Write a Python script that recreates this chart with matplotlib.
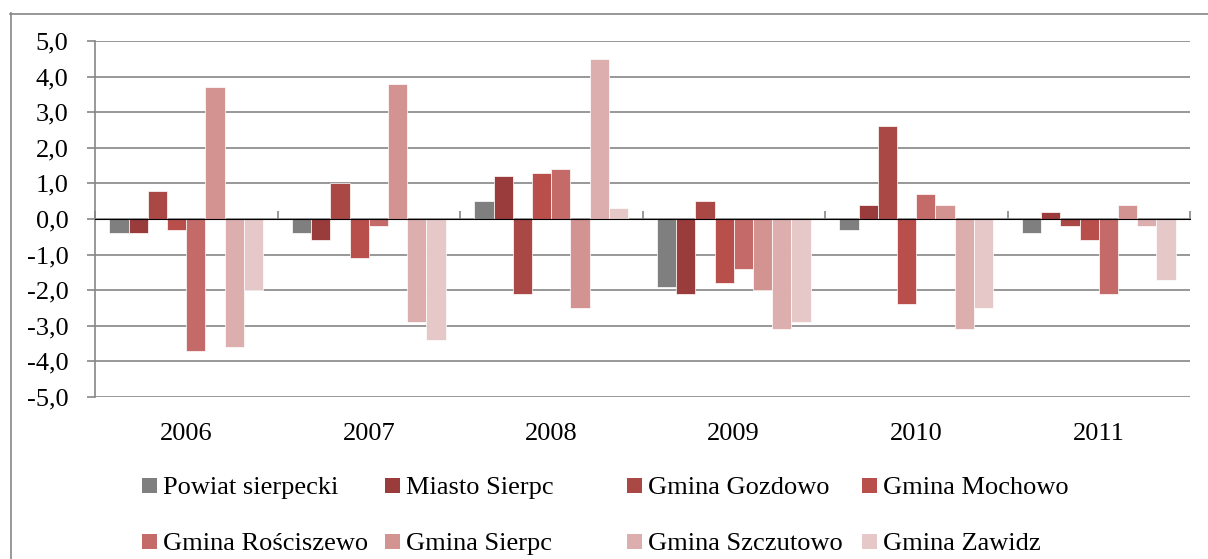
import matplotlib
matplotlib.use("Agg")
import matplotlib.pyplot as plt
import numpy as np
from matplotlib.patches import Rectangle
from matplotlib.lines import Line2D
from matplotlib.ticker import FuncFormatter, MultipleLocator

years = ["2006", "2007", "2008", "2009", "2010", "2011"]
series = ["Powiat sierpecki", "Miasto Sierpc", "Gmina Gozdowo", "Gmina Mochowo",
          "Gmina Rościszewo", "Gmina Sierpc", "Gmina Szczutowo", "Gmina Zawidz"]
powiat_sierpecki = [-0.4, -0.4, 0.5, -1.9, -0.3, -0.4]
miasto_sierpc    = [-0.4, -0.6, 1.2, -2.1, 0.4, 0.2]
gmina_gozdowo    = [0.8, 1.0, -2.1, 0.5, 2.6, -0.2]
gmina_mochowo    = [-0.3, -1.1, 1.3, -1.8, -2.4, -0.6]
gmina_rosciszewo = [-3.7, -0.2, 1.4, -1.4, 0.7, -2.1]
gmina_sierpc     = [3.7, 3.8, -2.5, -2.0, 0.4, 0.4]
gmina_szczutowo  = [-3.6, -2.9, 4.5, -3.1, -3.1, -0.2]
gmina_zawidz     = [-2.0, -3.4, 0.3, -2.9, -2.5, -1.7]
values = [powiat_sierpecki, miasto_sierpc, gmina_gozdowo, gmina_mochowo,
          gmina_rosciszewo, gmina_sierpc, gmina_szczutowo, gmina_zawidz]
colors = ["#7f7f7f", "#9a3c3b", "#aa4846", "#b94f4b", "#c46b69",
          "#d39391", "#ddaeae", "#e7c8c8"]

FONT = "Liberation Serif"
FS = 19
W, H = 1208, 559
fig = plt.figure(figsize=(W / 100, H / 100), dpi=100)
fig.patch.set_facecolor("white")

def fx(px):
    return px / W

def fy(py):
    return 1 - py / H

ax = fig.add_axes([fx(95), fy(397), fx(1190) - fx(95), fy(41) - fy(397)])

grid_c = "#868686"
n = len(series)
bw = 1.0 / (n + 1.5)
x = np.arange(len(years))
for i, (vals, c) in enumerate(zip(values, colors)):
    off = (i - (n - 1) / 2) * bw
    ax.bar(x + off, vals, width=bw, color=c, edgecolor="white", linewidth=0.5, zorder=3)

ax.set_xlim(-0.5, len(years) - 0.5)
ax.set_ylim(-5, 5)
ax.yaxis.set_major_locator(MultipleLocator(1))
ax.yaxis.set_major_formatter(FuncFormatter(lambda v, p: f"{v:.1f}".replace(".", ",")))
ax.grid(axis="y", color=grid_c, linewidth=1.2, zorder=0)
ax.set_axisbelow(True)
for s in ["top", "right", "bottom"]:
    ax.spines[s].set_visible(False)
ax.spines["left"].set_color(grid_c)
ax.spines["left"].set_linewidth(1.2)
ax.tick_params(axis="y", direction="out", length=6, width=1.2, color=grid_c,
               pad=13, labelsize=FS, labelfontfamily=FONT)
ax.set_xticks(x)
ax.set_xticklabels(years, fontfamily=FONT, fontsize=FS)
ax.tick_params(axis="x", length=0, pad=19)

# zero axis with category boundary ticks
sec = ax.secondary_xaxis(0.5)
sec.set_xticks(np.arange(-0.5, len(years), 1.0))
sec.set_xticklabels([])
sec.tick_params(direction="out", length=6, width=1.2, color=grid_c)
sec.spines["bottom"].set_color(grid_c)
sec.spines["bottom"].set_linewidth(1.2)
sec.set_zorder(4)

# outer border (left and top visible)
fig.add_artist(Line2D([fx(10.5), fx(10.5)], [fy(13), 0], transform=fig.transFigure,
                      color=grid_c, linewidth=1.2))
fig.add_artist(Line2D([fx(10), 1], [fy(13.5), fy(13.5)], transform=fig.transFigure,
                      color=grid_c, linewidth=1.2))

# legend
col_x = [142, 385, 627, 862]
row_base = [494, 550]
sq = 15
for i, (name, c) in enumerate(zip(series, colors)):
    r, k = divmod(i, 4)
    mx, base = col_x[k], row_base[r]
    fig.add_artist(Rectangle((fx(mx), fy(base - 1)), sq / W, sq / H,
                             transform=fig.transFigure, facecolor=c, edgecolor="none"))
    fig.text(fx(mx + sq + 6), fy(base), name, fontfamily=FONT, fontsize=FS,
             va="baseline", ha="left")

fig.savefig("out.png", dpi=100)
